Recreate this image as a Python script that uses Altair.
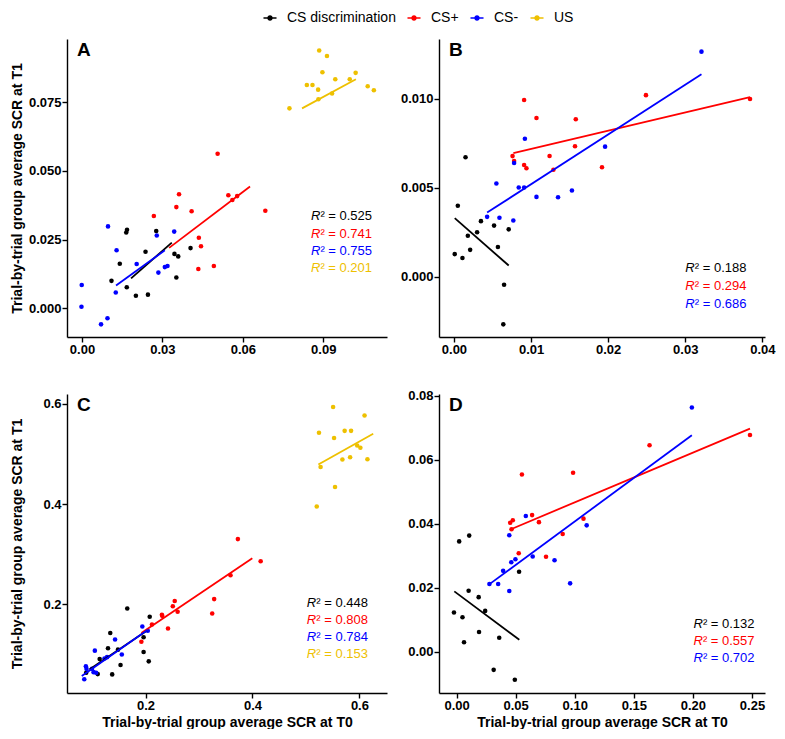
import altair as alt
import pandas as pd

GROUPS = ["CS discrimination", "CS+", "CS-", "US"]
COLORS = ["#000000", "#FF0000", "#0000FF", "#EEC000"]

# ---------------- Panel A ----------------
A_disc_x = [0.0168, 0.0165, 0.0277, 0.0237, 0.0141, 0.0110, 0.0167, 0.0201, 0.0246, 0.0345, 0.0359, 0.0352, 0.0405]
A_disc_y = [0.0286, 0.0276, 0.0281, 0.0206, 0.0162, 0.0100, 0.0077, 0.0046, 0.0050, 0.0198, 0.0189, 0.0112, 0.0219]
A_plus_x = [0.0506, 0.0546, 0.0561, 0.0579, 0.0684, 0.0362, 0.0352, 0.0409, 0.0268, 0.0436, 0.0444, 0.0434, 0.0492]
A_plus_y = [0.0562, 0.0411, 0.0394, 0.0408, 0.0355, 0.0415, 0.0368, 0.0353, 0.0336, 0.0257, 0.0226, 0.0143, 0.0154]
A_minus_x = [0.0097, 0.0129, 0.0279, 0.0344, 0.0204, 0.0285, 0.0309, 0.0319, 0.0126, -0.0001, -0.0002, 0.0095, 0.0071]
A_minus_y = [0.0298, 0.0211, 0.0265, 0.0279, 0.0161, 0.0130, 0.0150, 0.0154, 0.0058, 0.0085, 0.0006, -0.0036, -0.0058]
A_us_x = [0.0885, 0.0914, 0.0897, 0.0839, 0.0860, 0.0881, 0.0945, 0.0999, 0.1021, 0.0933, 0.0882, 0.0774, 0.1066, 0.1089]
A_us_y = [0.0937, 0.0917, 0.0858, 0.0812, 0.0812, 0.0795, 0.0833, 0.0833, 0.0856, 0.0781, 0.0760, 0.0727, 0.0807, 0.0793]
A_fit = {"CS discrimination": ([0.0183, 0.0335], [0.0109, 0.0239]),
         "CS+": ([0.0325, 0.0627], [0.0220, 0.0443]),
         "CS-": ([0.0127, 0.0309], [0.0083, 0.0211]),
         "US": ([0.0821, 0.1022], [0.0727, 0.0833])}
A_r2 = ["0.525", "0.741", "0.755", "0.201"]
A_r2_x = 0.0854
A_r2_y = [0.0336, 0.0272, 0.0208, 0.0145]

# ---------------- Panel B ----------------
B_disc_x = [0.0001, 0.0011, 0.0005, 0.0015, 0.0018, 0.0021, 0.0030, 0.0035, 0.0052, 0.0057, 0.0071, 0.0065, 0.0064]
B_disc_y = [0.00128, 0.00106, 0.00399, 0.00672, 0.00231, 0.00152, 0.00251, 0.00313, 0.00288, 0.00168, 0.00267, -0.00044, -0.00266]
B_plus_x = [0.0091, 0.0107, 0.0158, 0.0157, 0.0124, 0.0129, 0.0076, 0.0078, 0.0091, 0.0094, 0.0192, 0.0249, 0.0384]
B_plus_y = [0.00993, 0.00892, 0.00885, 0.00733, 0.00679, 0.00601, 0.00678, 0.00650, 0.00628, 0.00610, 0.00615, 0.01020, 0.00998]
B_minus_x = [0.0321, 0.0092, 0.0078, 0.0196, 0.0055, 0.0084, 0.0091, 0.0107, 0.0135, 0.0153, 0.0043, 0.0059, 0.0077]
B_minus_y = [0.01264, 0.00775, 0.00639, 0.00731, 0.00524, 0.00502, 0.00502, 0.00449, 0.00447, 0.00485, 0.00337, 0.00332, 0.00317]
B_fit = {"CS discrimination": ([0.0001, 0.0071], [0.00330, 0.00064]),
         "CS+": ([0.0077, 0.0384], [0.00694, 0.01009]),
         "CS-": ([0.0043, 0.0321], [0.00361, 0.01137])}
B_r2 = ["0.188", "0.294", "0.686"]
B_r2_x = 0.0300
B_r2_y = [0.00048, -0.00053, -0.00150]

# ---------------- Panel C ----------------
C_disc_x = [0.1658, 0.2078, 0.1340, 0.1298, 0.1484, 0.1964, 0.1964, 0.2060, 0.1532, 0.1142, 0.1376, 0.1106, 0.0890]
C_disc_y = [0.1915, 0.1753, 0.1428, 0.1122, 0.1096, 0.1343, 0.1050, 0.0862, 0.0790, 0.0907, 0.0602, 0.0608, 0.0634]
C_plus_x = [0.3727, 0.4153, 0.3589, 0.3283, 0.3247, 0.2546, 0.2510, 0.2600, 0.2306, 0.2312, 0.2420, 0.2120, 0.1922]
C_plus_y = [0.3301, 0.2859, 0.2579, 0.2104, 0.1818, 0.2065, 0.1961, 0.1850, 0.1792, 0.1770, 0.1519, 0.1597, 0.1252]
C_minus_x = [0.1940, 0.1430, 0.2042, 0.1052, 0.1556, 0.1280, 0.1232, 0.0884, 0.0896, 0.0998, 0.1028, 0.1076, 0.0854]
C_minus_y = [0.1558, 0.1298, 0.1473, 0.1076, 0.0998, 0.0946, 0.0920, 0.0764, 0.0712, 0.0712, 0.0647, 0.0634, 0.0504]
C_us_x = [0.5508, 0.6096, 0.5244, 0.5724, 0.5844, 0.5526, 0.5958, 0.6018, 0.5682, 0.5826, 0.6150, 0.5274, 0.5544, 0.5202]
C_us_y = [0.5935, 0.5766, 0.5421, 0.5460, 0.5460, 0.5317, 0.5167, 0.5122, 0.4888, 0.4933, 0.4894, 0.4738, 0.4341, 0.3951]
C_fit = {"CS discrimination": ([0.0950, 0.2030], [0.0699, 0.1480]),
         "CS+": ([0.1922, 0.3997], [0.1428, 0.2917]),
         "CS-": ([0.0807, 0.2042], [0.0569, 0.1493]),
         "US": ([0.5232, 0.6258], [0.4790, 0.5402])}
C_r2 = ["0.448", "0.808", "0.784", "0.153"]
C_r2_x = 0.5017
C_r2_y = [0.2033, 0.1694, 0.1350, 0.1011]

# ---------------- Panel D ----------------
D_disc_x = [0.0022, 0.0107, 0.0102, 0.0187, 0.0242, -0.0022, 0.0050, 0.0190, 0.0063, 0.0361, 0.0529, 0.0314, 0.0493]
D_disc_y = [0.0345, 0.0363, 0.0191, 0.0171, 0.0128, 0.0123, 0.0108, 0.0062, 0.0030, 0.0044, 0.0250, -0.0056, -0.0087]
D_plus_x = [0.0553, 0.0986, 0.1633, 0.2483, 0.0454, 0.0476, 0.0465, 0.0639, 0.0697, 0.1074, 0.0898, 0.0526, 0.0757]
D_plus_y = [0.0554, 0.0559, 0.0645, 0.0677, 0.0403, 0.0411, 0.0383, 0.0427, 0.0405, 0.0416, 0.0368, 0.0308, 0.0297]
D_minus_x = [0.1991, 0.0586, 0.1101, 0.0446, 0.0463, 0.0498, 0.0644, 0.0829, 0.0394, 0.0278, 0.0352, 0.0446, 0.0961]
D_minus_y = [0.0763, 0.0424, 0.0395, 0.0364, 0.0280, 0.0289, 0.0298, 0.0286, 0.0253, 0.0212, 0.0212, 0.0190, 0.0214]
D_fit = {"CS discrimination": ([-0.0019, 0.0531], [0.0189, 0.0038]),
         "CS+": ([0.0460, 0.2483], [0.0383, 0.0697]),
         "CS-": ([0.0273, 0.1991], [0.0210, 0.0676])}
D_r2 = ["0.132", "0.557", "0.702"]
D_r2_x = 0.2004
D_r2_y = [0.0088, 0.0035, -0.0019]

Y_TITLE = "Trial-by-trial group average SCR at T1"
X_TITLE = "Trial-by-trial group average SCR at T0"
FONT = "Liberation Sans"

LEGEND_PATH = ("M-1,-0.13H1V0.13H-1Z "
               "M0.42,0A0.42,0.42,0,1,1,-0.42,0A0.42,0.42,0,1,1,0.42,0Z")

color_scale = alt.Scale(domain=GROUPS, range=COLORS)


def panel(letter, pts, fits, r2_vals, r2_x, r2_y, xdom, ydom, xticks, yticks,
          xfmt, yfmt, w, h, ytitle, xtitle, legend):
    pts_df = pd.DataFrame([{"g": g, "x": x, "y": y}
                           for g, (xs, ys) in pts.items() for x, y in zip(xs, ys)])
    fit_df = pd.DataFrame([{"g": g, "x": x, "y": y}
                           for g, (xs, ys) in fits.items() for x, y in zip(xs, ys)])
    n = len(r2_vals)
    r2_df = pd.DataFrame({"g": GROUPS[:n], "x": [r2_x] * n, "y": r2_y,
                          "v": ["\u00b2 = " + v for v in r2_vals]})

    xaxis_kw = dict(values=xticks, format=xfmt)
    yaxis_kw = dict(values=yticks, format=yfmt, minExtent=40, maxExtent=40)
    xenc = alt.X("x:Q", scale=alt.Scale(domain=xdom, nice=False, zero=False),
                 axis=alt.Axis(**xaxis_kw), title=xtitle if xtitle else None)
    yenc = alt.Y("y:Q", scale=alt.Scale(domain=ydom, nice=False, zero=False),
                 axis=alt.Axis(**yaxis_kw), title=ytitle if ytitle else None)

    if legend:
        col_pts = alt.Color("g:N", scale=color_scale, legend=alt.Legend(
            orient="none", legendX=196, legendY=-28, direction="horizontal",
            title=None, symbolType=LEGEND_PATH, symbolSize=170,
            symbolStrokeWidth=0, symbolOpacity=1, labelFontSize=14,
            labelFont=FONT, labelColor="black", columnPadding=11,
            labelOffset=10))
    else:
        col_pts = alt.Color("g:N", scale=color_scale, legend=None)
    col = alt.Color("g:N", scale=color_scale, legend=None)

    points = alt.Chart(pts_df).mark_circle(size=21, opacity=1).encode(
        x=xenc, y=yenc, color=col_pts)
    lines = alt.Chart(fit_df).mark_line(strokeWidth=1.8).encode(
        x=xenc, y=yenc, color=col, detail="g:N")
    r_txt = alt.Chart(r2_df).mark_text(
        font=FONT, fontSize=13, fontStyle="italic", align="left",
        baseline="middle").encode(x=xenc, y=yenc, color=col, text=alt.value("R"))
    v_txt = alt.Chart(r2_df).mark_text(
        font=FONT, fontSize=13, align="left", baseline="middle", dx=9.5).encode(
        x=xenc, y=yenc, color=col, text="v:N")
    letter_txt = alt.Chart(pd.DataFrame({"t": [letter]})).mark_text(
        font=FONT, fontSize=19, fontWeight="bold", align="left", baseline="top",
        color="black").encode(text="t:N", x=alt.value(10), y=alt.value(2))

    return alt.layer(points, lines, r_txt, v_txt, letter_txt).properties(
        width=w, height=h)


pA = panel("A",
           {"CS discrimination": (A_disc_x, A_disc_y), "CS+": (A_plus_x, A_plus_y),
            "CS-": (A_minus_x, A_minus_y), "US": (A_us_x, A_us_y)},
           A_fit, A_r2, A_r2_x, A_r2_y,
           [-0.0056, 0.1138], [-0.0104, 0.0979],
           [0, 0.03, 0.06, 0.09], [0, 0.025, 0.05, 0.075],
           ".2f", ".3f", 320, 298, Y_TITLE, None, True)
pB = panel("B",
           {"CS discrimination": (B_disc_x, B_disc_y), "CS+": (B_plus_x, B_plus_y),
            "CS-": (B_minus_x, B_minus_y)},
           B_fit, B_r2, B_r2_x, B_r2_y,
           [-0.00194, 0.04034], [-0.00337, 0.01335],
           [0, 0.01, 0.02, 0.03, 0.04], [0, 0.005, 0.01],
           ".2f", ".3f", 326, 298, None, None, False)
pC = panel("C",
           {"CS discrimination": (C_disc_x, C_disc_y), "CS+": (C_plus_x, C_plus_y),
            "CS-": (C_minus_x, C_minus_y), "US": (C_us_x, C_us_y)},
           C_fit, C_r2, C_r2_x, C_r2_y,
           [0.0531, 0.6516], [0.0231, 0.6195],
           [0.2, 0.4, 0.6], [0.2, 0.4, 0.6],
           ".1f", ".1f", 320, 299, Y_TITLE, X_TITLE, False)
pD = panel("D",
           {"CS discrimination": (D_disc_x, D_disc_y), "CS+": (D_plus_x, D_plus_y),
            "CS-": (D_minus_x, D_minus_y)},
           D_fit, D_r2, D_r2_x, D_r2_y,
           [-0.01487, 0.2610], [-0.01282, 0.0805],
           [0, 0.05, 0.10, 0.15, 0.20, 0.25], [0, 0.02, 0.04, 0.06, 0.08],
           ".2f", ".2f", 326, 299, None, X_TITLE, False)

chart = alt.concat(pA, pB, pC, pD, columns=2,
                   spacing={"row": 57, "column": 52}, bounds="flush").properties(
    padding={"left": 2, "top": 3, "right": 0, "bottom": 0}
).configure(font=FONT).configure_view(stroke=None).configure_axis(
    grid=False, domainColor="black", domainWidth=1.4, tickColor="black",
    tickWidth=1.4, tickSize=5, labelFont=FONT, labelFontSize=13,
    labelFontWeight="bold", labelColor="black", labelPadding=1,
    titleFont=FONT, titleFontSize=14, titleFontWeight="bold",
    titleColor="black", titlePadding=3)

chart.save("out.html", embed_options={"renderer": "svg", "actions": False})
